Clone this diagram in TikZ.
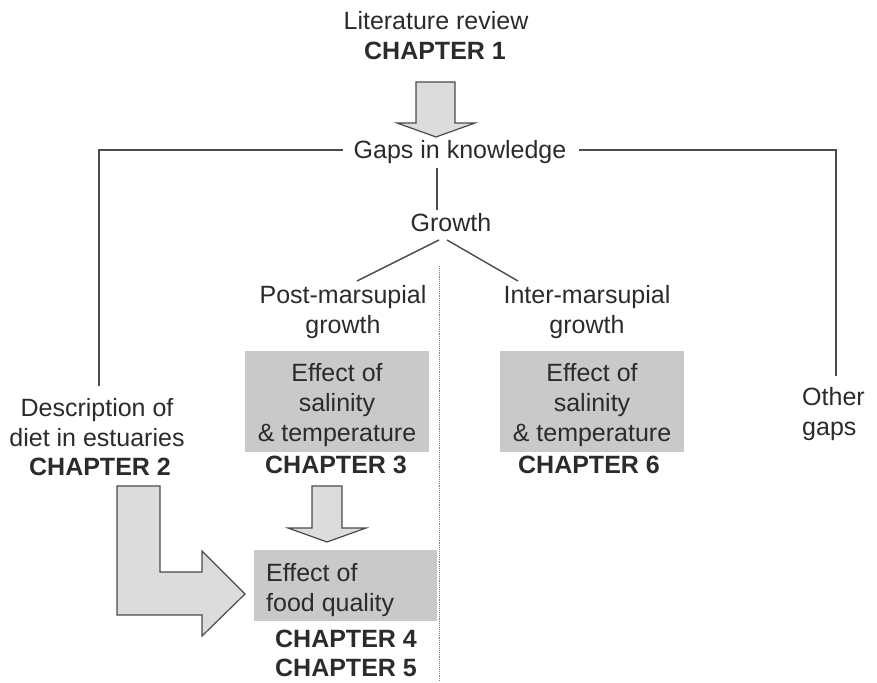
\documentclass[tikz,border=0pt]{standalone}
\usepackage{fontspec}
\setmainfont{Liberation Sans}
\definecolor{txtc}{HTML}{2B2B2B}
\definecolor{linec}{HTML}{4A4A4A}
\definecolor{boxc}{HTML}{C9C9C9}
\definecolor{arrowc}{HTML}{DCDCDC}
\tikzset{
  txt/.style={font=\fontsize{25}{30}\selectfont, inner sep=0pt, text=txtc, align=center, anchor=base},
  chap/.style={txt, font=\fontsize{25}{29}\selectfont\bfseries},
  conn/.style={draw=linec, line width=1.4pt},
  graybox/.style={fill=boxc, inner sep=0pt},
  blockarrow/.style={fill=arrowc, draw=linec, line width=1.2pt, line join=miter},
  divider/.style={draw=gray, line width=0.9pt, densely dotted}
}
\begin{document}
\begin{tikzpicture}[x=1pt,y=-1pt]
\useasboundingbox (0,0) rectangle (877,682);
% top
\node[txt] (lit) at (436,30) {Literature review};
\node[chap] (ch1) at (435,60) {CHAPTER 1};
\draw[blockarrow] (416,82) -- (455,82) -- (455,123) -- (475,123) -- (436,137) -- (397,123) -- (416,123) -- cycle;
\node[txt] (gaps) at (460,158) {Gaps in knowledge};
\coordinate (gl) at (343,150);
\coordinate (gr) at (579,150);
\coordinate (lc) at (99,150);
\coordinate (rc) at (836,150);
\node[txt] (desc) at (97,446) {Description of\\diet in estuaries};
\node[chap] (ch2) at (100,475) {CHAPTER 2};
\node[txt, align=left, anchor=base west] (other) at (802,435) {Other\\gaps};
\draw[conn] (gl) -- (lc) -- (99,386);
\draw[conn] (gr) -- (rc) -- (836,376);
% growth
\node[txt] (growth) at (451,231) {Growth};
\draw[conn] (437,168) -- (437,210);
\draw[conn] (439,240) -- (357,281);
\draw[conn] (447,240) -- (518,281);
\coordinate (dtop) at (439,266);
\coordinate (dbot) at (439,682);
\draw[divider] (dtop) -- (dbot);
\node[txt] (post) at (343,333) {Post-marsupial\\growth};
\node[txt] (inter) at (587,333) {Inter-marsupial\\growth};
% boxes
\node[graybox, minimum width=184pt, minimum height=101pt] (box3) at (337,401.5) {};
\node[graybox, minimum width=184pt, minimum height=101pt] (box6) at (592,401.5) {};
\node[txt] (box3t) at (337,441) {Effect of\\salinity\\\& temperature};
\node[txt] (box6t) at (592,441) {Effect of\\salinity\\\& temperature};
\node[chap] (ch3) at (336,473) {CHAPTER 3};
\node[chap] (ch6) at (589,473) {CHAPTER 6};
\draw[blockarrow] (312,486) -- (342,486) -- (342,528) -- (366,528) -- (327,542) -- (288,528) -- (312,528) -- cycle;
\node[graybox, minimum width=183pt, minimum height=71pt] (food) at (345.5,585.5) {};
\node[txt, align=left, anchor=base west] (foodt) at (266,611) {Effect of\\food quality};
\draw[blockarrow] (117,486) -- (160,486) -- (160,572) -- (202,572) -- (202,551) -- (245,594) -- (202,636) -- (202,615) -- (117,615) -- cycle;
\node[chap] (ch45) at (346,676) {CHAPTER 4\\CHAPTER 5};
\end{tikzpicture}
\end{document}
